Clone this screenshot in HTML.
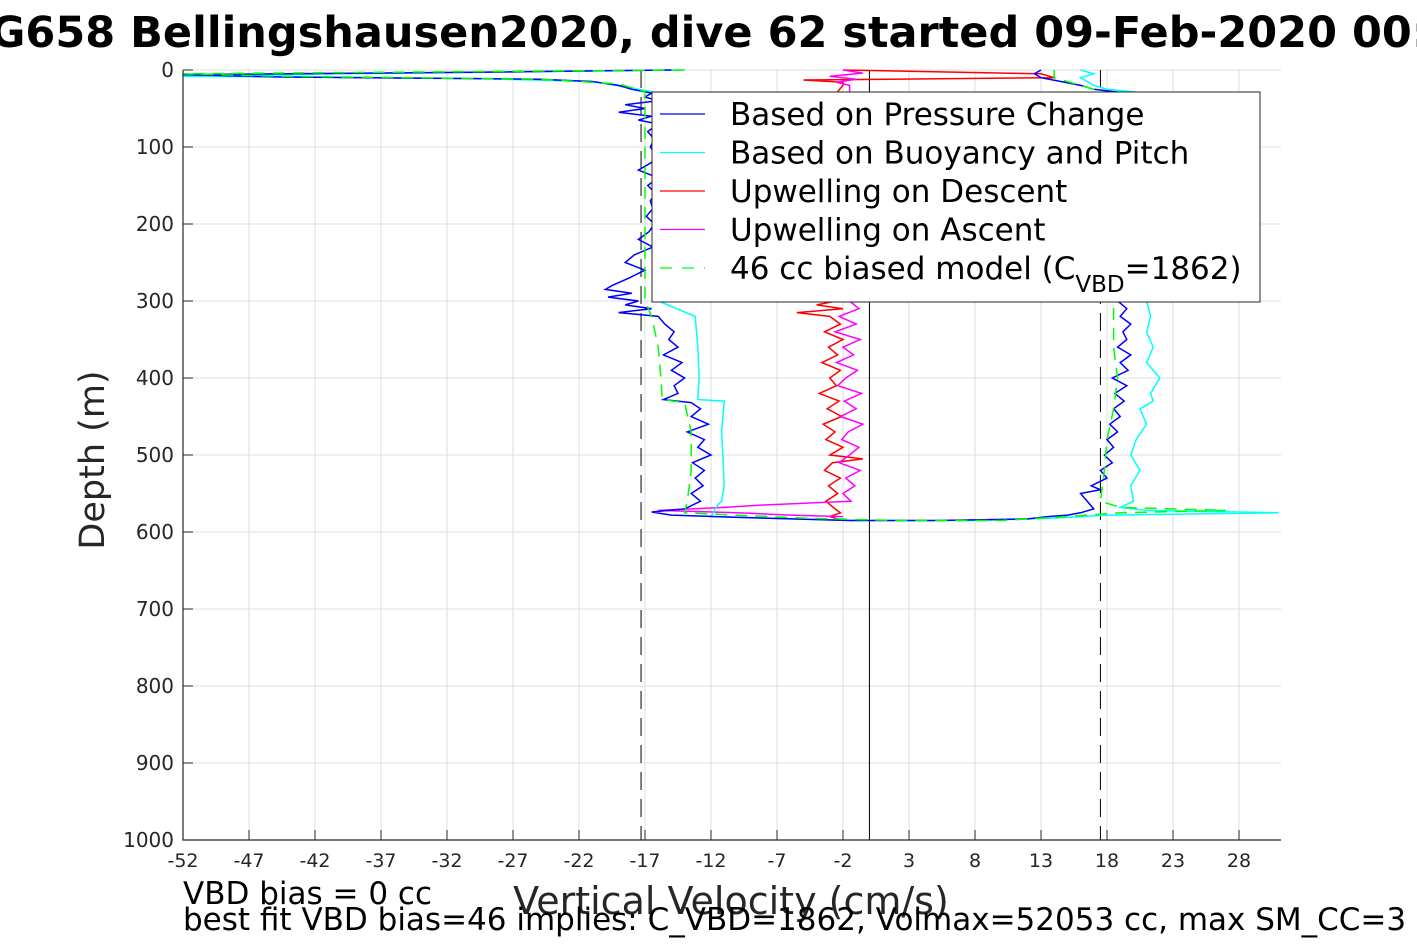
<!DOCTYPE html>
<html><head><meta charset="utf-8"><style>
html,body{margin:0;padding:0;background:#fff;width:1417px;height:945px;overflow:hidden}
svg{display:block;font-family:"DejaVu Sans","Liberation Sans",sans-serif}
</style></head><body>
<svg id="chart" width="1417" height="945" viewBox="0 0 1417 945" xmlns="http://www.w3.org/2000/svg">
<g id="grid"></g>
<g id="series"></g>
<g id="axes"></g>
<g id="legend"></g>
<text x="724" y="47" text-anchor="middle" font-size="43" font-weight="bold" fill="#000">SG658 Bellingshausen2020, dive 62 started 09-Feb-2020 00:12</text>
<text transform="translate(104,460) rotate(-90)" text-anchor="middle" font-size="35" fill="#262626">Depth (m)</text>
<text x="731" y="914" text-anchor="middle" font-size="38" fill="#262626">Vertical Velocity (cm/s)</text>
<text x="183" y="904" font-size="31" fill="#000">VBD bias = 0 cc</text>
<text x="183" y="930" font-size="31" fill="#000">best fit VBD bias=46 implies: C_VBD=1862, Volmax=52053 cc, max SM_CC=3</text>
</svg>
<script>
const xTicks=[-52,-47,-42,-37,-32,-27,-22,-17,-12,-7,-2,3,8,13,18,23,28];
const yTicks=[0,100,200,300,400,500,600,700,800,900,1000];
const refLines=[-17.3,0,17.5];
const blueDepth=[0,3,6,9,12,15,20,25,30,35,40,45,50,55,60,65,70,80,90,100,110,120,130,140,150,160,170,180,190,200,210,220,230,240,250,260,270,280,285,290,295,300,305,310,315,320,330,340,350,360,370,380,390,400,410,420,428,432,440,450,460,470,480,490,500,510,520,530,540,550,560,570,574,578,582,585,
585,583,580,578,575,570,560,550,545,540,530,520,510,500,490,480,470,460,450,440,430,420,410,400,390,380,370,360,350,340,330,320,310,300,280,250,200,150,100,50,30,25,20,15,10,5,0];
const blueVel=[-15,-30,-52,-45,-25,-21,-19,-18,-16.5,-17,-16,-18.5,-17,-19,-16.5,-17.5,-16,-16.8,-16.3,-16.6,-16.2,-16.5,-17.5,-16,-16.8,-16.2,-16.6,-16.4,-16.9,-16.3,-16.7,-17.5,-16.4,-17.8,-18.5,-17,-18.2,-19.5,-20,-18,-19.8,-17.5,-18.5,-16.5,-19,-16,-15.5,-14.8,-15.2,-14.5,-15.6,-14.2,-15,-14,-14.8,-14.5,-15.6,-13.5,-12.8,-13.5,-12.2,-13.8,-12.5,-13,-12,-13.4,-12.5,-13.2,-12.6,-13.5,-12.8,-14,-16.5,-15,-8,-1.5,
5,12,13.5,15,16,17,16.5,16,17.5,16.8,18,17.5,18.4,17.8,18.5,18,18.8,18.2,19,18.5,19.3,18.6,19.5,18.4,19.6,19,19.8,18.8,19.5,19.2,19.8,19,19.5,18.8,19,19.2,19,19.1,19,19,19.5,17,16,14.5,13,12.5,13];
const cyanDepth=[0,5,8,11,15,22,28,50,100,200,300,320,360,400,428,430,470,500,540,560,565,580,585,585,582,578,575,572,568,560,540,520,500,480,460,440,430,420,400,380,360,340,320,300,200,100,30,25,20,15,10,5,0];
const cyanVel=[-14,-40,-52,-30,-21,-18.5,-16.5,-16.3,-16.2,-16.3,-16,-13.2,-13,-12.9,-13,-11,-11.2,-11.1,-11,-11.2,-11.5,-12,-1,8,14,18,31,21,19,20,19.8,20.5,19.8,20.2,21,20.5,21.5,21.3,22,21,21.5,21,21.3,21,21,21,21,18,17,16.5,16,17,16];
const greenDepth=[0,5,8,12,18,28,100,200,300,320,360,400,428,432,470,520,560,575,582,585,585,580,575,572,568,560,520,480,440,400,360,320,300,30,20,10,0];
const greenVel=[-14,-52,-45,-25,-19,-17,-17,-17,-17,-16.5,-16,-15.8,-15.7,-14,-13.5,-13.5,-13.8,-14,-5,2,10,15,19,27,19,17.5,17.8,18,18.5,18.8,18.5,18.5,18.5,18,16,14,14];
const redDepth=[0,5,10,13,16,20,30,100,200,300,305,310,315,320,330,340,350,360,370,380,390,400,410,420,430,440,450,460,470,480,490,500,505,510,520,530,540,550,560,570,575,580,585];
const redVel=[-2,13,14,-5,-2,-2,-2.5,-2.5,-2.5,-2.5,-4,-2,-5.5,-3,-2.2,-3.4,-2,-3.1,-2.4,-3.6,-2.2,-3,-2.5,-3.8,-2.3,-3.2,-2.1,-3.5,-2.6,-3.3,-2,-3,-0.5,-2.8,-3.4,-2.2,-3.1,-2.4,-3.3,-2.6,-2.2,-3,-2];
const magDepth=[0,4,8,12,16,20,300,310,320,330,340,350,360,370,380,390,400,410,420,430,440,450,460,470,480,490,500,510,520,530,540,550,560,565,568,572,575,578,580];
const magVel=[-2,-0.5,-3,-1,-2.5,-1.5,-1.5,-0.8,-2.3,-1,-2.6,-0.7,-2,-1.2,-2.5,-0.9,-1.8,-2.4,-0.6,-1.9,-1,-2.2,-0.5,-1.6,-2.1,-0.8,-1.5,-2.3,-0.7,-1.8,-1.1,-2,-1.4,-8,-11,-16,-10,-6,-2];
const legendLabels=["Based on Pressure Change","Based on Buoyancy and Pitch","Upwelling on Descent","Upwelling on Ascent","46 cc biased model (C"];

const NS="http://www.w3.org/2000/svg";
const X0=183,X1=1281,Y0=70,Y1=840,XMIN=-52,XMAX=31.18,YMIN=0,YMAX=1000;
function sx(v){return X0+(v-XMIN)/(XMAX-XMIN)*(X1-X0);}
function sy(d){return Y0+(d-YMIN)/(YMAX-YMIN)*(Y1-Y0);}
function mk(tag,attrs,parent){const e=document.createElementNS(NS,tag);for(const k in attrs)e.setAttribute(k,attrs[k]);parent.appendChild(e);return e;}
const grid=document.getElementById('grid'),axes=document.getElementById('axes'),ser=document.getElementById('series'),leg=document.getElementById('legend');
mk('rect',{x:X0,y:Y0,width:X1-X0,height:Y1-Y0,fill:'#fff'},grid);
xTicks.forEach(t=>{const x=sx(t);
 const g=mk('line',{x1:x,x2:x,y1:Y0,y2:Y1,stroke:'#dfdfdf','stroke-width':1},grid);
 
 const tk=mk('line',{x1:x,x2:x,y1:Y1,y2:Y1-10,stroke:'#262626','stroke-width':1},axes);
 
 const tl=mk('text',{x:x,y:Y1+27,'text-anchor':'middle','font-size':19,fill:'#262626'},axes);tl.textContent=t;
 });
yTicks.forEach(t=>{const y=sy(t);
 const g=mk('line',{x1:X0,x2:X1,y1:y,y2:y,stroke:'#dfdfdf','stroke-width':1},grid);
 
 const tk=mk('line',{x1:X0,x2:X0+10,y1:y,y2:y,stroke:'#262626','stroke-width':1},axes);
 
 const tl=mk('text',{x:X0-9,y:y+7,'text-anchor':'end','font-size':20,fill:'#262626'},axes);tl.textContent=t;
 });
const ax=mk('path',{d:`M${X0},${Y0}V${Y1}H${X1}`,fill:'none',stroke:'#262626','stroke-width':1.2},axes);

refLines.forEach((v,i)=>{const x=sx(v);
 const l=mk('line',{x1:x,x2:x,y1:Y0,y2:Y1,stroke:'#000','stroke-width':1,'stroke-dasharray':v===0?'none':'18,9'},ser);
 });
function line(ds,vs,color,name,dash){
 let d='';for(let i=0;i<ds.length;i++){d+=(i?'L':'M')+sx(vs[i]).toFixed(1)+','+sy(ds[i]).toFixed(1);}
 const p=mk('path',{d:d,fill:'none',stroke:color,'stroke-width':1.5},ser);
 if(dash)p.setAttribute('stroke-dasharray',dash);
 }
line(redDepth,redVel,'#ff0000','upwelling-descent-line');
line(magDepth,magVel,'#ff00ff','upwelling-ascent-line');
line(cyanDepth,cyanVel,'#00ffff','buoyancy-pitch-line');
line(blueDepth,blueVel,'#0000ff','pressure-change-line');
line(greenDepth,greenVel,'#00ff00','biased-model-line','12,8');
const lb=mk('rect',{x:652,y:92,width:608,height:210,fill:'#fff',stroke:'#262626','stroke-width':1},leg);

const lc=['#0000ff','#00ffff','#ff0000','#ff00ff','#00ff00'];
legendLabels.forEach((s,i)=>{const y=114+i*38.5;
 const l=mk('line',{x1:660,x2:705,y1:y,y2:y,stroke:lc[i],'stroke-width':1.2},leg);
 if(i===4)l.setAttribute('stroke-dasharray','12,10');
 
 const t=mk('text',{x:730,y:y+11,'font-size':31,fill:'#000'},leg);
 
 t.textContent=s;
 if(i===4){const a=mk('tspan',{dy:13,'font-size':23},t);a.textContent='VBD';const b=mk('tspan',{dy:-13},t);b.textContent='=1862)';}
});
</script>
</body></html>
